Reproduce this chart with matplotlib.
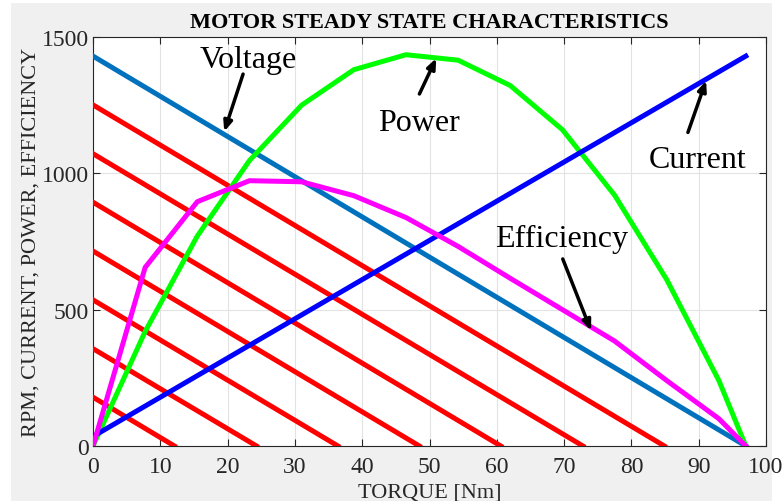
import matplotlib
matplotlib.use("Agg")
import matplotlib.pyplot as plt
from matplotlib.patches import Rectangle

plt.rcParams['font.family'] = ['Liberation Serif', 'DejaVu Serif']

# motor data
torque = [0, 7.75, 15.5, 23.25, 31, 38.75, 46.5, 54.25, 62, 69.75, 77.5, 85.25, 93, 97]
power = [0, 420, 770, 1047, 1250, 1380, 1435, 1415, 1322, 1160, 920, 610, 240, 0]
efficiency = [0, 655, 896, 973, 969, 918, 838, 732, 615, 500, 385, 240, 100, 0]

voltage_torque = [0, 97]
voltage_rpm = [1430, 0]

current_torque = [0, 97]
current_amps = [35, 1430]

# reduced voltage speed lines (start rpm at zero torque, stall torque)
red_start_rpm = [1251, 1072, 894, 715, 536, 357, 179]
red_stall_torque = [84.9, 72.8, 60.6, 48.5, 36.4, 24.3, 12.1]

fig = plt.figure(figsize=(7.83, 5.02), dpi=100, facecolor='white')
fig.patches.append(Rectangle((11 / 783, 0), (772 - 11) / 783, (502 - 4) / 502,
                             transform=fig.transFigure, facecolor='#f0f0f0',
                             edgecolor='none', zorder=-1))
ax = fig.add_axes([93 / 783, 55 / 502, 673 / 783, 409 / 502])

lw = 3.6
ax.plot(voltage_torque, voltage_rpm, color=(0, 0.447, 0.741), lw=lw, zorder=3)
for rpm, stall in zip(red_start_rpm, red_stall_torque):
    ax.plot([0, stall], [rpm, 0], color='red', lw=lw, zorder=3)
ax.plot(torque, power, color=(0, 1, 0), lw=lw, zorder=4)
ax.plot(current_torque, current_amps, color=(0, 0, 1), lw=lw, zorder=5)
ax.plot(torque, efficiency, color=(1, 0, 1), lw=lw, zorder=6)

arrow = dict(arrowstyle='-|>,head_length=0.6,head_width=0.25', color='black', lw=2.5,
             shrinkA=0, shrinkB=0)
txt = dict(fontsize=23, ha='center', va='baseline')
ax.annotate('', xy=(19.5, 1153), xytext=(22.3, 1364), arrowprops=arrow, zorder=7)
ax.text(23.0, 1390, 'Voltage', **txt)
ax.annotate('', xy=(51, 1422), xytext=(48.5, 1291), arrowprops=arrow, zorder=7)
ax.text(48.4, 1159, 'Power', **txt)
ax.annotate('', xy=(91.1, 1340), xytext=(88.4, 1150), arrowprops=arrow, zorder=7)
ax.text(89.9, 1023, 'Current', **txt)
ax.annotate('', xy=(74, 423), xytext=(69.8, 686), arrowprops=arrow, zorder=7)
ax.text(69.6, 734, 'Efficiency', **txt)

ax.set_xlim(0, 100)
ax.set_ylim(0, 1500)
ax.set_xticks(range(0, 101, 10))
ax.set_yticks([0, 500, 1000, 1500])
ax.grid(True, color='#e3e3e3', lw=0.8)
ax.set_axisbelow(True)
ax.tick_params(direction='in', top=True, right=True, length=5, labelsize=17,
               colors='#262626')
ax.tick_params(axis='x', pad=7)
ax.tick_params(axis='y', pad=3)
for s in ax.spines.values():
    s.set_color('#262626')
    s.set_linewidth(0.8)

ax.set_title('MOTOR STEADY STATE CHARACTERISTICS', fontsize=16, fontweight='bold', pad=7)
ax.set_xlabel('TORQUE [Nm]', fontsize=16, color='#262626', labelpad=4)
ax.set_ylabel('RPM, CURRENT, POWER, EFFICIENCY', fontsize=16, color='#262626', labelpad=1)

fig.savefig('out.png', dpi=100, facecolor=fig.get_facecolor())
